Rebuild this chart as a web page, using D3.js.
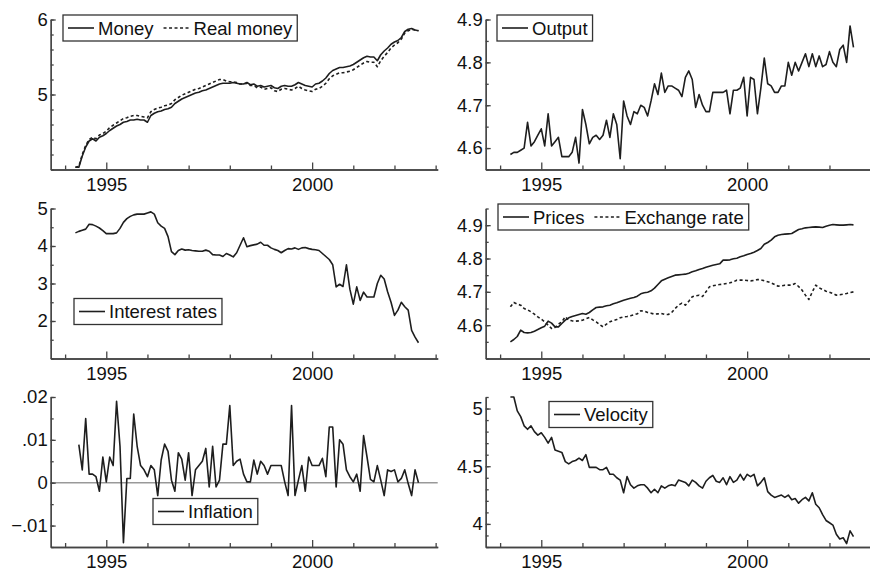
<html>
<head>
  <title>Money demand series</title>
  <script src="https://d3js.org/d3.v7.min.js"></script>
  <style>
    body { margin: 0; background: #fff; }
    svg text {
        font-family: "Liberation Sans", Arial, Helvetica, sans-serif;
        font-size: 18.5px;
        fill: #111;
    }
    .axis path, .axis line {
        stroke: #444;
        stroke-width: 1.3px;
    }
    .series {
        fill: none;
        stroke: #1e1e1e;
        stroke-width: 1.6px;
        stroke-linejoin: round;
    }
    .dotted {
        stroke-dasharray: 3 2.5;
    }
    .legend rect {
        fill: #fff;
        stroke: #333;
        stroke-width: 1.3px;
    }
    .zero {
        stroke: #999;
        stroke-width: 1.5px;
    }
  </style>
</head>
<body>
<svg id="chart" width="870" height="571"></svg>
<script>
    // monthly data, 1994m4 .. 2002m8
    const firstMonth = 1994 + 3 / 12;
    const nMonths = 101;
    const months = d3.range(nMonths).map(i => firstMonth + i / 12);

    const money = [4.03,4.03,4.18,4.30,4.38,4.41,4.38,4.43,4.45,4.48,
        4.52,4.55,4.58,4.60,4.63,4.64,4.66,4.66,4.67,4.66,
        4.66,4.63,4.72,4.75,4.77,4.78,4.80,4.81,4.83,4.88,
        4.91,4.94,4.96,4.98,5.00,5.02,5.03,5.05,5.06,5.08,
        5.10,5.12,5.14,5.15,5.15,5.15,5.16,5.15,5.14,5.14,
        5.16,5.13,5.14,5.11,5.12,5.10,5.11,5.12,5.09,5.08,
        5.11,5.12,5.11,5.11,5.13,5.16,5.14,5.12,5.11,5.10,
        5.14,5.15,5.18,5.22,5.28,5.32,5.34,5.36,5.36,5.37,
        5.38,5.40,5.43,5.46,5.49,5.51,5.50,5.50,5.45,5.53,
        5.58,5.62,5.67,5.70,5.72,5.76,5.84,5.87,5.88,5.86,
        5.85];

    const realMoney = [4.03,4.04,4.20,4.32,4.40,4.43,4.41,4.46,4.48,4.51,
        4.56,4.59,4.62,4.65,4.68,4.69,4.71,4.72,4.72,4.71,
        4.70,4.69,4.77,4.80,4.82,4.83,4.85,4.86,4.88,4.93,
        4.96,4.99,5.01,5.03,5.05,5.07,5.08,5.10,5.12,5.14,
        5.16,5.18,5.20,5.20,5.18,5.17,5.17,5.16,5.14,5.14,
        5.15,5.12,5.12,5.09,5.10,5.07,5.08,5.09,5.05,5.04,
        5.07,5.08,5.07,5.06,5.08,5.11,5.08,5.06,5.05,5.04,
        5.07,5.08,5.11,5.15,5.21,5.25,5.27,5.29,5.29,5.30,
        5.31,5.33,5.36,5.39,5.42,5.44,5.43,5.43,5.37,5.45,
        5.51,5.56,5.62,5.66,5.69,5.74,5.82,5.85,5.87,5.86,
        5.85];

    const output = [4.585,4.59,4.59,4.595,4.60,4.66,4.605,4.615,4.63,4.645,
        4.605,4.68,4.605,4.615,4.625,4.58,4.58,4.58,4.59,4.625,
        4.565,4.69,4.655,4.61,4.625,4.63,4.62,4.63,4.665,4.625,
        4.68,4.655,4.575,4.71,4.675,4.655,4.685,4.68,4.70,4.695,
        4.675,4.71,4.75,4.725,4.775,4.73,4.745,4.745,4.74,4.735,
        4.72,4.765,4.78,4.76,4.695,4.725,4.70,4.685,4.685,4.73,
        4.73,4.73,4.73,4.735,4.68,4.735,4.735,4.74,4.765,4.675,
        4.765,4.76,4.68,4.74,4.81,4.75,4.745,4.73,4.73,4.745,
        4.745,4.80,4.77,4.80,4.78,4.80,4.82,4.79,4.82,4.79,
        4.815,4.79,4.795,4.825,4.80,4.79,4.83,4.84,4.80,4.885,
        4.835];

    const interest = [4.35,4.39,4.42,4.45,4.58,4.57,4.53,4.48,4.41,4.33,
        4.33,4.33,4.35,4.47,4.63,4.73,4.79,4.83,4.85,4.85,
        4.85,4.88,4.91,4.85,4.62,4.53,4.47,4.25,3.85,3.77,
        3.88,3.92,3.89,3.90,3.88,3.87,3.86,3.86,3.89,3.86,
        3.77,3.76,3.76,3.72,3.80,3.76,3.71,3.82,4.02,4.22,
        3.98,4.01,4.03,4.05,4.10,4.02,4.02,3.95,3.91,3.88,
        3.82,3.88,3.93,3.92,3.95,3.91,3.95,3.96,3.93,3.91,
        3.90,3.88,3.80,3.72,3.64,3.50,2.91,2.98,2.92,3.50,
        2.85,2.45,2.91,2.55,2.77,2.64,2.64,2.64,3.00,3.22,
        3.12,2.78,2.50,2.15,2.29,2.50,2.38,2.29,1.75,1.57,
        1.42];

    const prices = [4.550,4.557,4.566,4.585,4.578,4.577,4.578,4.582,4.587,4.592,
        4.597,4.612,4.606,4.595,4.595,4.605,4.615,4.622,4.626,4.629,
        4.632,4.635,4.633,4.638,4.646,4.653,4.654,4.655,4.658,4.660,
        4.664,4.667,4.671,4.675,4.678,4.681,4.683,4.687,4.694,4.697,
        4.699,4.703,4.711,4.722,4.733,4.738,4.742,4.746,4.750,4.751,
        4.752,4.753,4.756,4.760,4.763,4.767,4.770,4.774,4.777,4.780,
        4.782,4.784,4.795,4.795,4.796,4.799,4.801,4.805,4.808,4.812,
        4.815,4.819,4.824,4.830,4.843,4.848,4.855,4.865,4.870,4.872,
        4.873,4.874,4.875,4.881,4.887,4.889,4.892,4.893,4.894,4.895,
        4.894,4.893,4.897,4.900,4.902,4.901,4.900,4.900,4.901,4.902,
        4.901];

    const exchange = [4.655,4.668,4.663,4.660,4.650,4.646,4.640,4.633,4.625,4.618,
        4.610,4.600,4.590,4.593,4.603,4.610,4.625,4.615,4.613,4.612,
        4.613,4.615,4.619,4.623,4.616,4.610,4.602,4.595,4.603,4.610,
        4.614,4.617,4.622,4.625,4.626,4.628,4.631,4.634,4.643,4.642,
        4.638,4.636,4.633,4.634,4.635,4.632,4.632,4.638,4.650,4.660,
        4.666,4.660,4.672,4.685,4.688,4.690,4.686,4.700,4.715,4.718,
        4.720,4.722,4.723,4.725,4.727,4.730,4.735,4.735,4.735,4.734,
        4.733,4.734,4.737,4.736,4.733,4.730,4.727,4.722,4.717,4.718,
        4.720,4.720,4.720,4.725,4.716,4.705,4.690,4.677,4.700,4.720,
        4.712,4.707,4.702,4.699,4.695,4.690,4.691,4.693,4.695,4.698,
        4.700];

    // inflation is a first difference, so it starts one month later
    const inflation = [0.0089,0.003,0.015,0.002,0.002,0.0014,-0.002,0.006,0.0002,0.006,
        0.004,0.019,0.0085,-0.014,0.001,0.001,0.016,0.0085,0.004,0.003,
        0.0014,0.004,0.003,-0.003,0.0053,0.009,0.0073,0.0006,-0.002,0.007,
        0.0055,0.0006,0.007,-0.003,0.003,0.004,0.005,0.008,-0.001,0.0085,
        -0.001,0.0006,0.009,0.009,0.018,0.004,0.005,0.0055,0.002,0.0002,
        0.0002,0.0053,0.002,0.005,0.004,0.002,0.004,0.004,0.004,
        0.004,0.0002,-0.003,0.018,-0.003,0.0006,0.004,-0.002,0.006,0.004,
        0.004,0.004,0.0057,0.0014,0.013,0.013,-0.001,0.010,0.009,0.003,
        0.0014,0.0002,0.002,-0.002,0.011,0.006,0.0008,0.0002,0.004,0.0006,
        -0.003,0.003,0.0026,0.003,0.0002,0.001,0.003,-0.0002,-0.003,0.003,
        0.0];

    const velocity = [5.10,5.10,4.98,4.93,4.85,4.82,4.85,4.80,4.77,4.79,
        4.75,4.70,4.75,4.64,4.63,4.62,4.54,4.52,4.54,4.55,
        4.57,4.55,4.60,4.49,4.49,4.49,4.47,4.47,4.49,4.43,
        4.43,4.40,4.38,4.27,4.41,4.34,4.31,4.33,4.34,4.34,
        4.31,4.27,4.30,4.27,4.33,4.31,4.33,4.34,4.33,4.38,
        4.37,4.36,4.33,4.38,4.36,4.33,4.31,4.37,4.40,4.42,
        4.37,4.36,4.40,4.34,4.41,4.36,4.38,4.43,4.38,4.43,
        4.41,4.43,4.33,4.36,4.40,4.28,4.25,4.23,4.24,4.25,
        4.23,4.25,4.21,4.22,4.18,4.21,4.23,4.20,4.27,4.17,
        4.14,4.08,4.03,4.01,3.99,3.91,3.87,3.88,3.83,3.94,
        3.89];

    const years = d3.range(1994, 2004);
    const labelYears = [1995, 2000];

    const fmtInfl = d => d === 0 ? "0" : (d < 0 ? "\u2212" : "") + d3.format(".2f")(Math.abs(d)).replace(/^0/, "");

    // layout of the 3 x 2 grid
    const colX = [50.7, 485.7];
    const rowBottom = [169.5, 358.5, 547];
    const plotW = 387, plotH = 150;

    const panels = [
        { col: 0, row: 0, domain: [4, 6], major: [5, 6], minorStep: 0.2,
          series: [ { t: months, v: money, label: "Money" },
                    { t: months, v: realMoney, label: "Real money", dotted: true } ],
          legend: [63, 15] },
        { col: 1, row: 0, domain: [4.55, 4.9], major: [4.6, 4.7, 4.8, 4.9], minorStep: 0.05,
          series: [ { t: months, v: output, label: "Output" } ],
          legend: [497, 15] },
        { col: 0, row: 1, domain: [1, 5], major: [2, 3, 4, 5], minorStep: 0.5,
          series: [ { t: months, v: interest, label: "Interest rates" } ],
          legend: [74, 298.5] },
        { col: 1, row: 1, domain: [4.5, 4.95], major: [4.6, 4.7, 4.8, 4.9], minorStep: 0.05,
          series: [ { t: months, v: prices, label: "Prices" },
                    { t: months, v: exchange, label: "Exchange rate", dotted: true } ],
          legend: [498, 204] },
        { col: 0, row: 2, domain: [-0.015, 0.02], major: [-0.01, 0, 0.01, 0.02], minorStep: 0.005,
          format: fmtInfl, zeroLine: true,
          series: [ { t: months.slice(1), v: inflation, label: "Inflation" } ],
          legend: [153, 498.5] },
        { col: 1, row: 2, domain: [3.8, 5.1], major: [4, 4.5, 5], minorStep: 0.1,
          series: [ { t: months, v: velocity, label: "Velocity" } ],
          legend: [549, 401.5] }
    ];

    const svg = d3.select("#chart");

    panels.forEach(p => {
        const x0 = colX[p.col];
        const yb = rowBottom[p.row];
        const xScale = d3.scaleLinear().domain([1993.65, 2003.05]).range([x0, x0 + plotW]);
        const yScale = d3.scaleLinear().domain(p.domain).range([yb, yb - plotH]);
        const g = svg.append("g");

        if (p.zeroLine) {
            g.append("line").attr("class", "zero")
                .attr("x1", x0).attr("x2", x0 + plotW)
                .attr("y1", yScale(0)).attr("y2", yScale(0));
        }

        // minor ticks on the y axis (inward)
        const nMinor = Math.round((p.domain[1] - p.domain[0]) / p.minorStep);
        const minor = d3.range(nMinor + 1).map(k => +(p.domain[0] + k * p.minorStep).toFixed(4));
        g.append("g").attr("class", "axis")
            .attr("transform", `translate(${x0},0)`)
            .call(d3.axisLeft(yScale).tickValues(minor).tickSize(-3).tickSizeOuter(0).tickFormat(""));
        g.append("g").attr("class", "axis")
            .attr("transform", `translate(${x0},0)`)
            .call(d3.axisLeft(yScale).tickValues(p.major).tickSize(-5).tickSizeOuter(0)
                  .tickPadding(3).tickFormat(p.format || (d => d)));

        // x axis: yearly ticks, labels on 1995 and 2000
        g.append("g").attr("class", "axis")
            .attr("transform", `translate(0,${yb})`)
            .call(d3.axisBottom(xScale).tickValues(years.filter(d => !labelYears.includes(d)))
                  .tickSize(-4).tickSizeOuter(0).tickFormat(""));
        g.append("g").attr("class", "axis")
            .attr("transform", `translate(0,${yb})`)
            .call(d3.axisBottom(xScale).tickValues(labelYears)
                  .tickSize(-7).tickSizeOuter(0).tickPadding(8).tickFormat(d3.format("d")));

        // the series
        p.series.forEach(s => {
            const line = d3.line().x(d => xScale(d[0])).y(d => yScale(d[1]));
            g.append("path")
                .datum(s.t.map((t, i) => [t, s.v[i]]))
                .attr("class", s.dotted ? "series dotted" : "series")
                .attr("d", line);
        });

        // legend box
        const lg = g.append("g").attr("class", "legend")
            .attr("transform", `translate(${p.legend[0]},${p.legend[1]})`);
        const box = lg.append("rect").attr("x", 0).attr("y", 0).attr("height", 26);
        let cx = 5;
        p.series.forEach((s, k) => {
            if (k > 0) cx += 10;
            lg.append("line")
                .attr("class", s.dotted ? "series dotted" : "series")
                .attr("x1", cx).attr("x2", cx + 26)
                .attr("y1", 13).attr("y2", 13);
            cx += 30;
            const t = lg.append("text").attr("x", cx).attr("y", 19.6).text(s.label);
            cx += t.node().getComputedTextLength();
        });
        box.attr("width", cx + 5);
    });
</script>
</body>
</html>
